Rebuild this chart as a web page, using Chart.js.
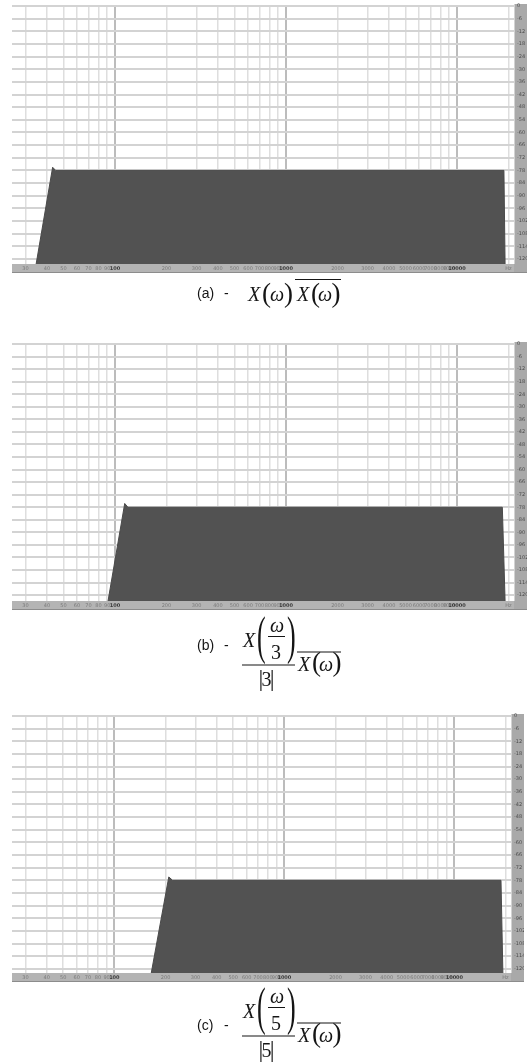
<!DOCTYPE html>
<html>
<head>
<meta charset="utf-8">
<script src="https://cdn.jsdelivr.net/npm/chart.js@4.4.0/dist/chart.umd.min.js"></script>
<style>
  body { margin:0; width:530px; height:1064px; background:#fff; overflow:hidden; position:relative; }
  canvas { position:absolute; left:0; }
  svg { position:absolute; left:0; top:0; }
  .lbl { font-family:"Liberation Sans", Arial, sans-serif; font-size:14px; }
  .it { font-family:"Liberation Serif", "Times New Roman", serif; font-style:italic; font-size:20px; }
  .rm { font-family:"Liberation Serif", "Times New Roman", serif; font-size:20px; }
</style>
</head>
<body>
<canvas id="chartA" width="530" height="278" style="top:0px"></canvas>
<canvas id="chartB" width="530" height="277" style="top:338px"></canvas>
<canvas id="chartC" width="530" height="277" style="top:710px"></canvas>

<svg width="530" height="1064" fill="#151515" stroke="none">
  <!-- (a) X(w) conj X(w) -->
  <text class="lbl" x="197" y="298">(a)</text>
  <text class="lbl" x="224" y="298">-</text>
  <text class="it" x="248" y="301">X</text>
  <text class="rm" x="262" y="302" style="font-size:27px">(</text>
  <text class="it" x="270" y="301">ω</text>
  <text class="rm" x="284" y="302" style="font-size:27px">)</text>
  <text class="it" x="297" y="301">X</text>
  <text class="rm" x="311" y="302" style="font-size:27px">(</text>
  <text class="it" x="318" y="301">ω</text>
  <text class="rm" x="331.5" y="302" style="font-size:27px">)</text>
  <line x1="295" x2="341" y1="279.5" y2="279.5" stroke="#151515" stroke-width="1.2"/>

  <!-- (b) X(w/3)/|3| conj X(w) -->
  <g transform="translate(0,-371)">
    <text class="lbl" x="197" y="1021">(b)</text>
    <text class="lbl" x="224" y="1021">-</text>
    <text class="it" x="243" y="1018">X</text>
    <text class="rm" transform="translate(257,1023.8) scale(1,2)" style="font-size:26px">(</text>
    <text class="it" x="270" y="1003">ω</text>
    <line x1="268" x2="285" y1="1007.5" y2="1007.5" stroke="#151515" stroke-width="1"/>
    <text class="rm" x="271" y="1030">3</text>
    <text class="rm" transform="translate(287,1023.8) scale(1,2)" style="font-size:26px">)</text>
    <line x1="242" x2="295" y1="1036" y2="1036" stroke="#151515" stroke-width="1.1"/>
    <text class="rm" x="258.5" y="1056.8" style="font-size:24px">|</text>
    <text class="rm" x="261.5" y="1057">3</text>
    <text class="rm" x="269.8" y="1056.8" style="font-size:24px">|</text>
    <text class="it" x="298" y="1042">X</text>
    <text class="rm" x="312" y="1042" style="font-size:27px">(</text>
    <text class="it" x="319" y="1042">ω</text>
    <text class="rm" x="332.5" y="1042" style="font-size:27px">)</text>
    <line x1="297" x2="341" y1="1023" y2="1023" stroke="#151515" stroke-width="1.2"/>
  </g>

  <!-- (c) X(w/5)/|5| conj X(w) -->
  <g>
    <text class="lbl" x="197" y="1030">(c)</text>
    <text class="lbl" x="224" y="1030">-</text>
    <text class="it" x="243" y="1018">X</text>
    <text class="rm" transform="translate(257,1023.8) scale(1,2)" style="font-size:26px">(</text>
    <text class="it" x="270" y="1003">ω</text>
    <line x1="268" x2="285" y1="1007.5" y2="1007.5" stroke="#151515" stroke-width="1"/>
    <text class="rm" x="271" y="1030">5</text>
    <text class="rm" transform="translate(287,1023.8) scale(1,2)" style="font-size:26px">)</text>
    <line x1="242" x2="295" y1="1036" y2="1036" stroke="#151515" stroke-width="1.1"/>
    <text class="rm" x="258.5" y="1056.8" style="font-size:24px">|</text>
    <text class="rm" x="261.5" y="1057">5</text>
    <text class="rm" x="269.8" y="1056.8" style="font-size:24px">|</text>
    <text class="it" x="298" y="1042">X</text>
    <text class="rm" x="312" y="1042" style="font-size:27px">(</text>
    <text class="it" x="319" y="1042">ω</text>
    <text class="rm" x="332.5" y="1042" style="font-size:27px">)</text>
    <line x1="297" x2="341" y1="1023" y2="1023" stroke="#151515" stroke-width="1.2"/>
  </g>
</svg>

<script>
// spectrum breakpoints: frequency in Hz, level in dB
const freqA = [34.5, 43.2, 45, 18800, 19100];
const levelA = [-123, -76.5, -78, -78, -123];

const freqB = [91, 114, 119, 18400, 19100];
const levelB = [-123, -76.2, -78, -78, -123];

const freqC = [164, 209, 220, 18800, 19300];
const levelC = [-123, -76.4, -78, -78, -123];

// axis ticks
const freqTicks = [30, 40, 50, 60, 70, 80, 90, 100,
  200, 300, 400, 500, 600, 700, 800, 900, 1000,
  2000, 3000, 4000, 5000, 6000, 7000, 8000, 9000, 10000, 20000];
const freqLabels = ['30', '40', '50', '60', '70', '80', '90', '100',
  '200', '300', '400', '500', '600', '700', '800', '900', '1000',
  '2000', '3000', '4000', '5000', '6000', '7000', '8000', '9000', '10000', 'Hz'];
const levelTicks = [0, -6, -12, -18, -24, -30, -36, -42, -48, -54, -60,
  -66, -72, -78, -84, -90, -96, -102, -108, -114, -120];
const levelLabels = ['0', '-6', '-12', '-18', '-24', '-30', '-36', '-42', '-48', '-54', '-60',
  '-66', '-72', '-78', '-84', '-90', '-96', '-102', '-108', '-114', '-120'];

const majorFreqs = [100, 1000, 10000];
const STRIP_H = 9;   // frequency ruler under the plot
const STRIP_W = 13;  // level ruler on the right

// grey rulers drawn behind the tick labels
const rulerPlugin = {
  id: 'rulers',
  beforeDraw(chart) {
    const { ctx, chartArea: a } = chart;
    ctx.save();
    ctx.fillStyle = '#b4b4b4';
    ctx.fillRect(a.left, a.bottom, a.right - a.left, STRIP_H);
    ctx.fillStyle = '#8c8c8c';
    ctx.fillRect(a.left, a.bottom + STRIP_H - 1, a.right - a.left + STRIP_W, 1);
    ctx.fillStyle = '#a9a9a9';
    ctx.fillRect(a.right, a.top - 2, STRIP_W, a.bottom - a.top + STRIP_H + 1);
    ctx.fillStyle = '#d2d2d2';
    ctx.fillRect(a.right, a.top - 2, 1, a.bottom - a.top + 2);
    ctx.restore();
  }
};

function spectrum(id, freq, level, yMin, padRight) {
  const points = freq.map((f, i) => ({ x: f, y: level[i] }));
  return new Chart(document.getElementById(id), {
    type: 'line',
    data: {
      datasets: [{
        data: points,
        fill: 'start',
        backgroundColor: '#525252',
        borderColor: '#4a4a4a',
        borderWidth: 1,
        pointRadius: 0,
        tension: 0
      }]
    },
    options: {
      responsive: false,
      animation: false,
      layout: { padding: { top: 5, left: 12, right: padRight, bottom: 5 } },
      plugins: { legend: { display: false }, tooltip: { enabled: false } },
      scales: {
        x: {
          type: 'logarithmic',
          min: 25,
          max: 21530,
          afterBuildTicks: s => { s.ticks = freqTicks.map(v => ({ value: v })); },
          afterFit: s => { s.height = STRIP_H; },
          border: { display: false },
          grid: {
            drawTicks: false,
            color: c => majorFreqs.includes(c.tick && c.tick.value) ? '#bcbcbc' : '#dedede',
            lineWidth: c => majorFreqs.includes(c.tick && c.tick.value) ? 2 : 1.5
          },
          ticks: {
            autoSkip: false,
            maxRotation: 0,
            padding: 2,
            color: c => majorFreqs.includes(c.tick && c.tick.value) ? '#3a3a3a' : '#7a7a7a',
            font: c => ({ family: 'DejaVu Sans', size: 5,
              weight: majorFreqs.includes(c.tick && c.tick.value) ? 'bold' : 'normal' }),
            callback: (v, i) => freqLabels[i]
          }
        },
        y: {
          position: 'right',
          min: yMin,
          max: 0,
          afterBuildTicks: s => { s.ticks = levelTicks.map(v => ({ value: v })); },
          afterFit: s => { s.width = STRIP_W; },
          border: { display: false },
          grid: { drawTicks: false, color: '#d3d3d3', lineWidth: 2 },
          ticks: {
            padding: 3,
            color: '#4a4a4a',
            font: { family: 'DejaVu Sans', size: 5 },
            callback: (v, i) => levelLabels[i]
          }
        }
      }
    },
    plugins: [rulerPlugin]
  });
}

spectrum('chartA', freqA, levelA, -122.4, 3);
spectrum('chartB', freqB, levelB, -122.8, 3);
spectrum('chartC', freqC, levelC, -122, 6);
</script>
</body>
</html>
